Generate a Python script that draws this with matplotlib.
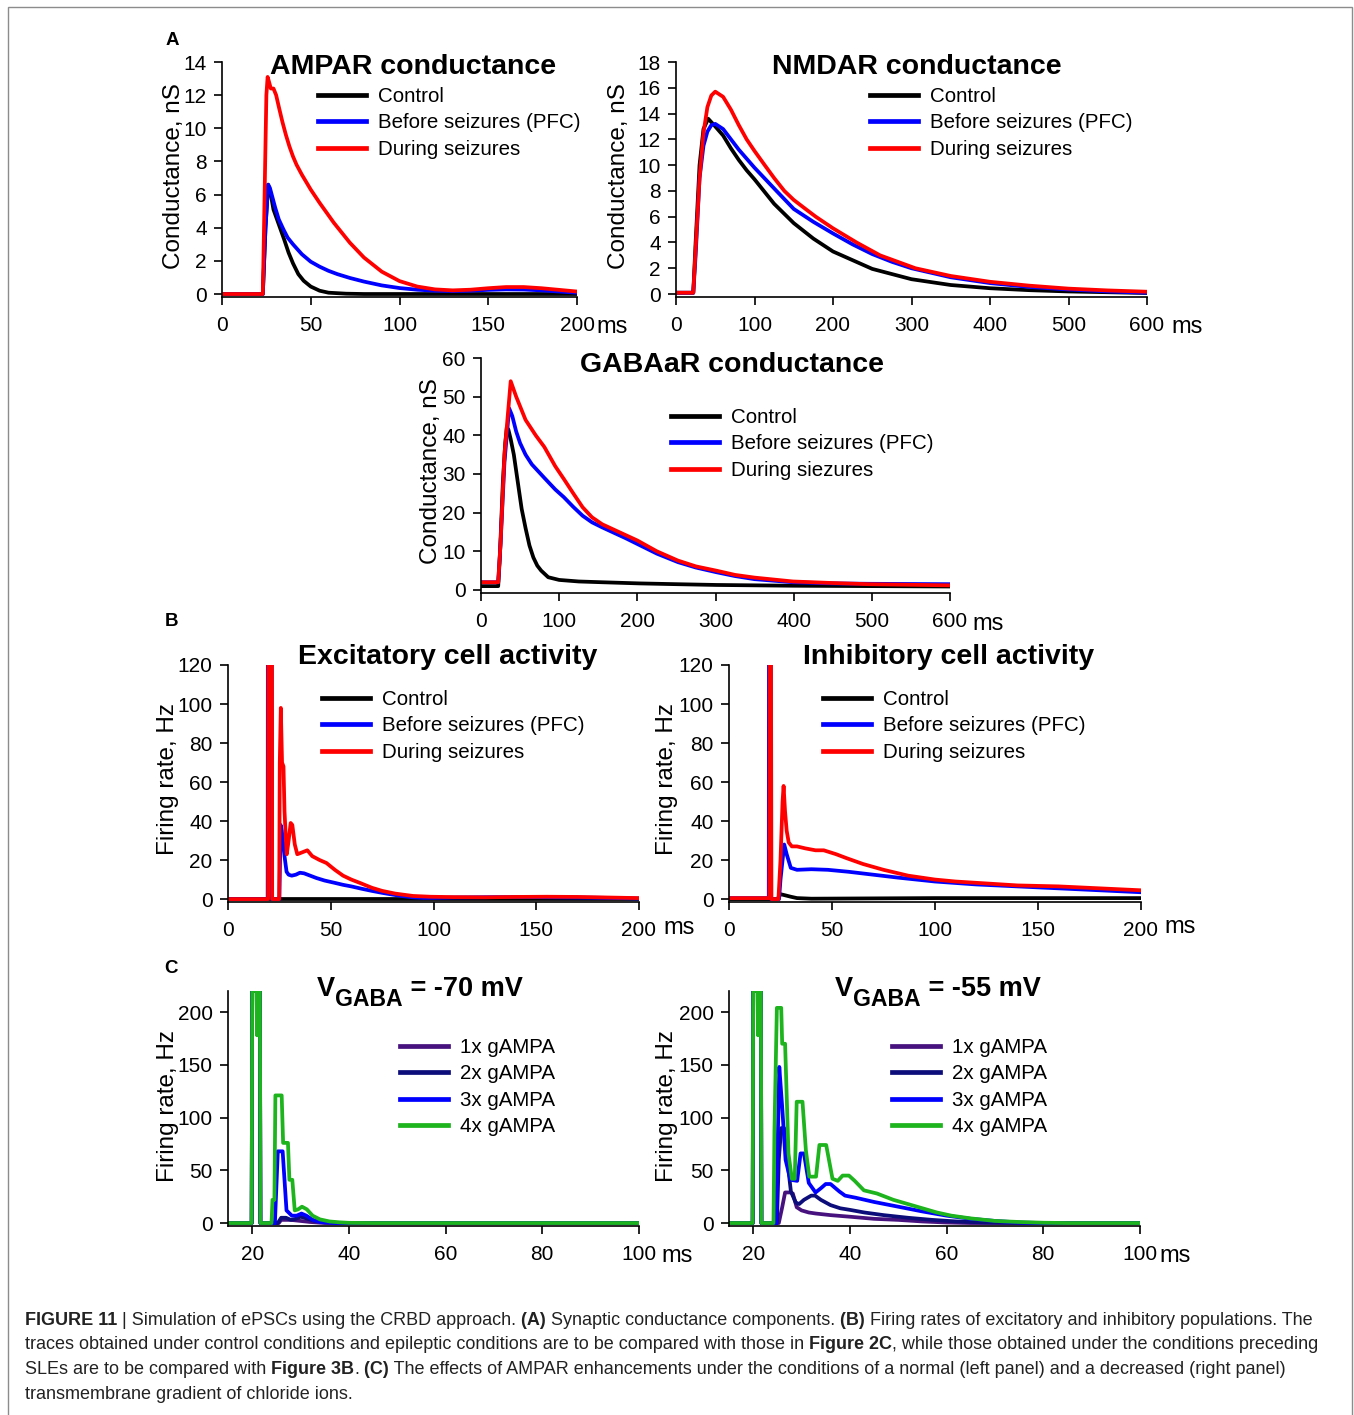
import matplotlib
matplotlib.use('Agg')
import matplotlib.pyplot as plt
from matplotlib.patches import Rectangle

plt.rcParams['font.family'] = ['Liberation Sans', 'DejaVu Sans']

W, H = 1354, 1415

# ---------------------------------------------------------------- data
labels_abc = ['Control', 'Before seizures (PFC)', 'During seizures']
labels_gaba = ['Control', 'Before seizures (PFC)', 'During siezures']
labels_c = ['1x gAMPA', '2x gAMPA', '3x gAMPA', '4x gAMPA']

# A: AMPAR conductance (nS)
ampar_ctrl_t = [0, 23, 24.5, 26, 27.5, 29, 31, 33, 35, 37.5, 40, 43, 46, 50, 55, 60, 70, 80, 200]
ampar_ctrl_v = [0, 0, 4.0, 6.6, 6.0, 5.1, 4.5, 3.9, 3.3, 2.5, 1.85, 1.2, 0.8, 0.45, 0.2, 0.08, 0.02, 0, 0]
ampar_pfc_t = [0, 23, 24.5, 26, 27, 28.5, 30, 32, 34.6, 37, 40, 45, 50, 55, 60, 65, 72, 80, 90, 100,
               110, 120, 130, 140, 150, 160, 170, 180, 190, 200]
ampar_pfc_v = [0, 0, 4.0, 6.6, 6.4, 5.8, 5.2, 4.5, 3.9, 3.4, 3.0, 2.4, 1.95, 1.65, 1.4, 1.2, 0.97, 0.75,
               0.52, 0.36, 0.26, 0.2, 0.18, 0.2, 0.25, 0.28, 0.27, 0.22, 0.15, 0.08]
ampar_sz_t = [0, 23, 24, 25, 25.7, 26.5, 27.5, 29, 30.5, 32, 34, 36, 38, 40, 42, 45, 50, 55, 63, 72,
              80, 90, 100, 110, 120, 130, 140, 150, 160, 170, 180, 190, 200]
ampar_sz_v = [0, 0, 6, 12, 13.1, 12.8, 12.4, 12.4, 12.0, 11.3, 10.4, 9.6, 8.9, 8.3, 7.8, 7.2, 6.3, 5.5,
              4.3, 3.1, 2.2, 1.35, 0.78, 0.45, 0.28, 0.22, 0.26, 0.35, 0.42, 0.42, 0.35, 0.25, 0.15]

# A: NMDAR conductance (nS)
nmdar_ctrl_t = [0, 22, 25, 30, 35, 41, 50, 60, 70, 80, 90, 100, 125, 150, 175, 200, 250, 300, 350, 400,
                450, 500, 600]
nmdar_ctrl_v = [0.1, 0.1, 4, 10, 12.8, 13.6, 13.0, 12.3, 11.3, 10.4, 9.6, 8.9, 7.0, 5.5, 4.3, 3.3, 1.95,
                1.15, 0.7, 0.45, 0.3, 0.2, 0.08]
nmdar_pfc_t = [0, 22, 25, 30, 35, 40, 45, 50, 60, 70, 80, 90, 100, 128, 150, 175, 200, 225, 250, 275,
               300, 350, 400, 450, 500, 550, 600]
nmdar_pfc_v = [0.1, 0.1, 3, 9, 11.5, 12.6, 13.1, 13.2, 12.8, 12.0, 11.2, 10.5, 9.8, 8.0, 6.6, 5.6, 4.7,
               3.85, 3.1, 2.5, 2.0, 1.3, 0.85, 0.55, 0.35, 0.2, 0.1]
nmdar_sz_t = [0, 22, 25, 30, 35, 40, 45, 50, 60, 70, 80, 90, 100, 113, 125, 138, 150, 165, 178, 200,
              230, 260, 305, 350, 400, 450, 500, 550, 600]
nmdar_sz_v = [0.1, 0.1, 3.5, 9, 12.5, 14.5, 15.4, 15.7, 15.3, 14.3, 13.1, 12.0, 11.1, 10.0, 9.0, 8.0,
              7.3, 6.6, 6.0, 5.1, 4.0, 3.0, 2.0, 1.4, 0.95, 0.65, 0.42, 0.28, 0.18]

# A: GABAaR conductance (nS)
gaba_ctrl_t = [0, 22, 24, 28, 31, 33, 35, 38, 42, 47, 52, 57, 62, 67, 72, 77, 86, 100, 125, 155, 203,
               250, 301, 399, 500, 600]
gaba_ctrl_v = [1, 1, 8, 28, 38, 42, 41.5, 39, 35, 28, 21, 16, 11.5, 8.4, 6.3, 5, 3.3, 2.6, 2.2, 2.0,
               1.7, 1.5, 1.3, 1.1, 1.0, 0.9]
gaba_pfc_t = [0, 22, 25, 30, 36, 40, 45, 50, 57, 65, 81, 95, 106, 118, 130, 142, 155, 170, 185, 200,
              225, 252, 275, 301, 325, 350, 399, 450, 496, 600]
gaba_pfc_v = [2, 2, 12, 33, 47, 45, 41, 38, 35, 32.5, 29, 26, 24, 21.5, 19.2, 17.5, 16.2, 14.8, 13.4,
              11.9, 9.4, 7.2, 5.8, 4.6, 3.6, 2.8, 2.0, 1.7, 1.6, 1.5]
gaba_sz_t = [0, 22, 25, 30, 38, 45, 57, 70, 81, 95, 106, 118, 130, 142, 155, 170, 185, 200, 225, 252,
             275, 301, 325, 350, 399, 450, 496, 600]
gaba_sz_v = [2, 2, 12, 35, 54, 50, 44, 40, 37, 32, 28.7, 25, 21.4, 18.8, 17, 15.6, 14.2, 12.8, 10, 7.6,
             6.1, 5.0, 3.9, 3.2, 2.2, 1.8, 1.5, 1.2]

# B: excitatory firing rate (Hz)
exc_ctrl_t = [0, 200]
exc_ctrl_v = [0, 0]
exc_pfc_t = [0, 19.3, 19.4, 21.3, 21.4, 25.0, 25.6, 26.2, 27.5, 28.5, 29.5, 31, 33, 35, 37, 40, 43, 47,
             52, 56, 60, 65, 70, 75, 80, 85, 90, 95, 100, 110, 130, 150, 170, 185, 200]
exc_pfc_v = [0, 0, 120, 120, 0, 0, 38, 35, 22, 14, 12.5, 12, 12.5, 13.5, 13.2, 12, 10.8, 9.5, 8.3, 7.3,
             6.5, 5.3, 4.2, 3.2, 2.3, 1.5, 0.9, 0.6, 0.6, 0.8, 1.0, 1.0, 0.8, 0.6, 0.3]
exc_sz_t = [0, 19.5, 19.6, 21.4, 21.5, 24.9, 25.2, 25.7, 26.3, 27.0, 27.5, 28.2, 28.6, 29.5, 30.5, 31.3,
            32.5, 33.7, 35, 38.6, 41, 44.6, 47.9, 52, 56, 60, 64.4, 70, 75, 81.4, 90, 98.5, 110, 125, 140,
            155, 170, 185, 200]
exc_sz_v = [0, 0, 120, 120, 0, 0, 70, 98, 70, 68, 45, 30, 23, 30, 39, 38, 28, 23, 23.5, 25, 22, 20,
            18.5, 15, 12, 10, 8.2, 5.8, 4.2, 2.8, 1.6, 1.2, 1.0, 0.9, 1.1, 1.2, 1.1, 0.8, 0.5]

# B: inhibitory firing rate (Hz)
inh_ctrl_t = [0, 23.5, 25, 27, 30, 33, 40, 60, 100, 150, 200]
inh_ctrl_v = [0, 0, 2.5, 2.0, 1.2, 0.5, 0.2, 0.3, 0.5, 0.5, 0.5]
inh_pfc_t = [0, 19.3, 19.4, 20.3, 20.4, 24.3, 25, 26.8, 28, 30, 33, 40, 48, 58, 70, 82, 100, 120, 140,
             160, 180, 200]
inh_pfc_v = [0.5, 0.5, 120, 120, 0, 0, 10, 28, 23, 16, 15, 15.3, 15, 14, 12.5, 11, 9, 7.5, 6.5, 5.5,
             4.5, 3.5]
inh_sz_t = [0, 19.6, 19.8, 20.4, 20.6, 24.0, 25.0, 26.0, 26.5, 27.2, 28, 29, 30.5, 33, 37, 42, 46, 52,
            57, 65, 75, 87, 100, 110, 125, 140, 160, 180, 200]
inh_sz_v = [0.5, 0.5, 120, 120, 0, 0, 20, 50, 58, 45, 35, 29, 27, 27, 26, 25, 25, 23, 21, 18, 15, 12,
            10, 9, 8, 7, 6.5, 5.5, 4.5]

# C: V_GABA = -70 mV, firing rate (Hz)
cl_1x_t = [15, 19.9, 20.0, 21.6, 21.7, 25.5, 26, 28, 30, 32, 35, 100]
cl_1x_v = [0, 0, 220, 220, 0, 0, 3, 3, 2, 1, 0, 0]
cl_2x_t = [15, 19.9, 20.0, 21.6, 21.7, 25.3, 26, 27, 28, 29, 30, 31.5, 33, 35, 38, 100]
cl_2x_v = [0, 0, 220, 220, 0, 0, 5, 5, 3, 4, 6, 4, 2, 1, 0, 0]
cl_3x_t = [15, 19.9, 20.0, 21.6, 21.7, 24.7, 25.3, 26.3, 27.1, 28.2, 29.2, 30.2, 31.2, 32.5, 34, 37, 100]
cl_3x_v = [0, 0, 220, 220, 0, 0, 68, 68, 12, 7, 7, 9, 7, 3, 1, 0, 0]
cl_4x_t = [15, 19.9, 20.0, 20.9, 21.0, 21.1, 21.6, 21.7, 24.0, 24.2, 24.6, 24.8, 26.1, 26.4, 27.4, 27.7,
           28.3, 28.8, 29.5, 30.3, 31.3, 32.5, 34, 36, 38, 40, 45, 100]
cl_4x_v = [0, 0, 220, 220, 178, 220, 220, 0, 0, 22, 22, 121, 121, 76, 76, 41, 41, 12, 13, 15.5, 13, 7,
           3.5, 1.5, 0.7, 0.2, 0, 0]

# C: V_GABA = -55 mV, firing rate (Hz)
cr_1x_t = [15, 19.9, 20.0, 21.6, 21.7, 25.3, 26.0, 26.6, 27.7, 28.2, 29.0, 30.0, 31.5, 33, 36, 40, 45,
           50, 55, 60, 65, 100]
cr_1x_v = [0, 0, 220, 220, 0, 0, 15, 29, 29, 28, 15, 12, 10, 9, 7.5, 6, 4, 3, 1.5, 0.5, 0, 0]
cr_2x_t = [15, 19.9, 20.0, 21.6, 21.7, 24.9, 25.3, 25.8, 26.4, 26.8, 27.8, 28.8, 29.5, 30.5, 32, 32.8,
           34, 36, 38, 40, 43, 47, 52, 57, 62, 68, 75, 100]
cr_2x_v = [0, 0, 220, 220, 0, 0, 60, 90, 90, 70, 30, 19.5, 18, 22, 26, 26, 22, 17, 14, 12.5, 10, 7.5,
           5, 3, 1.5, 0.5, 0, 0]
cr_3x_t = [15, 19.9, 20.0, 21.6, 21.7, 24.8, 25.0, 25.4, 26.0, 26.7, 27.7, 29.1, 29.8, 30.5, 31.5,
           32.9, 34, 35, 36, 37.8, 39, 41.2, 45, 50, 55, 60, 65, 70, 75, 80, 100]
cr_3x_v = [0, 0, 220, 220, 0, 0, 60, 148, 110, 60, 41, 40, 66, 66, 38, 29, 33, 37, 37, 30, 26, 24, 20,
           15.5, 11, 7, 4, 2, 0.5, 0, 0]
cr_4x_t = [15, 19.9, 20.0, 20.9, 21.0, 21.1, 21.6, 21.7, 24.2, 24.4, 24.9, 25.8, 26.0, 26.6, 27.3,
           28.0, 28.6, 29.0, 30.2, 30.9, 31.6, 33.0, 33.7, 35.1, 36.4, 37.5, 38.5, 39.8, 41.0, 42.9,
           45.6, 49, 52, 55, 58, 61, 65, 70, 75, 80, 85, 100]
cr_4x_v = [0, 0, 220, 220, 178, 220, 220, 0, 0, 88, 204, 204, 170, 170, 66, 42, 42, 115, 115, 69, 44,
           44, 74, 74, 42, 40, 45, 45, 40, 31, 28, 22, 18, 14, 10, 7, 4.4, 2, 1, 0.3, 0, 0]

# ticks
ticks_200 = [0, 50, 100, 150, 200]
ticks_600 = [0, 100, 200, 300, 400, 500, 600]
ticks_c = [20, 40, 60, 80, 100]

# ---------------------------------------------------------------- styling
col3 = ['#000000', '#0000ff', '#ff0000']
col4 = ['#48127e', '#0c0c7a', '#0000ff', '#1db41d']
LW = 2.7

fig = plt.figure(figsize=(W / 100, H / 100), dpi=100)
fig.patch.set_facecolor('white')


def px_axes(l, r, t, b):
    return fig.add_axes([l / W, 1 - b / H, (r - l) / W, (b - t) / H])


def panel(box, xlim, ylim, xticks, yticks, ylabel, ylab_xy, ms_xy, series, colors, labels,
          title, title_xy, leg_xy):
    l, r, t, b = box
    ax = px_axes(l, r, t, b)
    for (tt, vv), c in zip(series, colors):
        ax.plot(tt, vv, color=c, lw=LW, solid_joinstyle='round', clip_on=True)
    ax.set_xlim(*xlim)
    ax.set_ylim(*ylim)
    ax.set_xticks(xticks)
    ax.set_yticks(yticks)
    for s in ['top', 'right']:
        ax.spines[s].set_visible(False)
    for s in ['left', 'bottom']:
        ax.spines[s].set_linewidth(1.2)
    ax.tick_params(direction='out', length=6, width=1.2, labelsize=15, pad=5)
    ax.tick_params(axis='x', pad=8)
    ax.set_ylabel(ylabel, fontsize=17.5, va='center')
    ax.yaxis.set_label_coords((ylab_xy[0] - l) / (r - l), (b - ylab_xy[1]) / (b - t))
    ax.set_xlabel('ms', fontsize=17, va='center')
    ax.xaxis.set_label_coords((ms_xy[0] - l) / (r - l), (b - ms_xy[1]) / (b - t))
    if title is not None:
        fig.text(title_xy[0] / W, 1 - title_xy[1] / H, title, ha='center', va='baseline',
                 fontsize=20.5, fontweight='bold')
    leg = ax.legend(labels, loc='upper left', bbox_to_anchor=(leg_xy[0] / W, 1 - leg_xy[1] / H),
                    bbox_transform=fig.transFigure, frameon=False, fontsize=14.8,
                    handlelength=2.33, handletextpad=0.58, labelspacing=0.36, borderpad=0,
                    borderaxespad=0)
    for h in leg.get_lines():
        h.set_linewidth(3.4)
    return ax


# Panel A
panel((222, 577, 62, 297), (0, 200), (-0.18, 14), ticks_200, list(range(0, 15, 2)),
      'Conductance, nS', (174, 176), (612, 327),
      [(ampar_ctrl_t, ampar_ctrl_v), (ampar_pfc_t, ampar_pfc_v), (ampar_sz_t, ampar_sz_v)],
      col3, labels_abc, 'AMPAR conductance', (413, 74), (318, 87))
panel((676, 1147, 62, 297), (0, 600), (-0.23, 18), ticks_600, list(range(0, 19, 2)),
      'Conductance, nS', (619, 176), (1187, 327),
      [(nmdar_ctrl_t, nmdar_ctrl_v), (nmdar_pfc_t, nmdar_pfc_v), (nmdar_sz_t, nmdar_sz_v)],
      col3, labels_abc, 'NMDAR conductance', (917, 74), (870, 87))
panel((481, 950, 358, 593), (0, 600), (-0.78, 60), ticks_600, list(range(0, 61, 10)),
      'Conductance, nS', (431, 471), (988, 624),
      [(gaba_ctrl_t, gaba_ctrl_v), (gaba_pfc_t, gaba_pfc_v), (gaba_sz_t, gaba_sz_v)],
      col3, labels_gaba, 'GABAaR conductance', (732, 372), (671, 408))

# Panel B
panel((228, 639, 665, 902), (0, 200), (-1.5, 120), ticks_200, list(range(0, 121, 20)),
      'Firing rate, Hz', (168, 779), (679, 928),
      [(exc_ctrl_t, exc_ctrl_v), (exc_pfc_t, exc_pfc_v), (exc_sz_t, exc_sz_v)],
      col3, labels_abc, 'Excitatory cell activity', (448, 664), (322, 690))
panel((729, 1141, 665, 902), (0, 200), (-1.5, 120), ticks_200, list(range(0, 121, 20)),
      'Firing rate, Hz', (667, 779), (1180, 927),
      [(inh_ctrl_t, inh_ctrl_v), (inh_pfc_t, inh_pfc_v), (inh_sz_t, inh_sz_v)],
      col3, labels_abc, 'Inhibitory cell activity', (949, 664), (823, 690))

# Panel C
panel((228, 639, 991, 1226), (15, 100), (-2.8, 220), ticks_c, [0, 50, 100, 150, 200],
      'Firing rate, Hz', (168, 1106), (677, 1256),
      [(cl_1x_t, cl_1x_v), (cl_2x_t, cl_2x_v), (cl_3x_t, cl_3x_v), (cl_4x_t, cl_4x_v)],
      col4, labels_c, None, None, (400, 1038))
panel((729, 1140, 991, 1226), (15, 100), (-2.8, 220), ticks_c, [0, 50, 100, 150, 200],
      'Firing rate, Hz', (667, 1106), (1175, 1256),
      [(cr_1x_t, cr_1x_v), (cr_2x_t, cr_2x_v), (cr_3x_t, cr_3x_v), (cr_4x_t, cr_4x_v)],
      col4, labels_c, None, None, (892, 1038))

# overlay axes for free text (titles with subscripts, caption)
tax = fig.add_axes([0, 0, 1, 1], zorder=10)
tax.set_xlim(0, W)
tax.set_ylim(H, 0)
tax.axis('off')


def run(x, y_bottom, segs, size, color='black'):
    """segs: list of (text, bold, dy_px, size_factor); chained left to right."""
    arts = []
    prev = None
    for s, bold, dy, sf in segs:
        kw = dict(fontsize=size * sf, fontweight='bold' if bold else 'normal', color=color,
                  va='bottom', ha='left')
        if prev is None:
            a = tax.text(x, y_bottom, s, **kw)
        else:
            a = tax.annotate(s, xy=(1, 0), xycoords=prev, xytext=(0, dy),
                             textcoords='offset pixels', **kw)
        arts.append(a)
        prev = a
    return arts


# C titles
run(317, 1002, [('V', True, 0, 1.0), ('GABA', True, -9, 0.85), (' = -70 mV', True, 9, 1.0)], 19.5)
run(835, 1002, [('V', True, 0, 1.0), ('GABA', True, -9, 0.85), (' = -55 mV', True, 9, 1.0)], 19.5)

# panel letters
for letter, (lx, ly) in zip(['A', 'B', 'C'], [(172, 45), (172, 626), (171, 973)]):
    tax.text(lx, ly, letter, fontsize=13.5, fontweight='bold', ha='center', va='baseline')

# caption
cap_lines = [
    [('FIGURE 11', True), (' | Simulation of ePSCs using the CRBD approach.', False), (' (A)', True),
     (' Synaptic conductance components.', False), (' (B)', True),
     (' Firing rates of excitatory and inhibitory populations. The', False)],
    [('traces obtained under control conditions and epileptic conditions are to be compared with those in',
      False), (' Figure 2C', True), (', while those obtained under the conditions preceding', False)],
    [('SLEs are to be compared with', False), (' Figure 3B', True), ('.', False), (' (C)', True),
     (' The effects of AMPAR enhancements under the conditions of a normal (left panel) and a decreased (right panel)',
      False)],
    [('transmembrane gradient of chloride ions.', False)],
]
cap_bottoms = [1329, 1353, 1378, 1403]


def draw_caption(size):
    out = []
    for segs, yb in zip(cap_lines, cap_bottoms):
        out.append(run(25, yb, [(s, b, 0, 1.0) for s, b in segs], size, color='#222222'))
    return out


size0 = 12.0
arts = draw_caption(size0)
fig.canvas.draw()
rend = fig.canvas.get_renderer()
x1 = arts[0][-1].get_window_extent(rend).x1
scale = (1318 - 25) / (x1 - 25)
for line in arts:
    for a in line:
        a.remove()
draw_caption(size0 * scale)

# outer frame
fig.add_artist(Rectangle((8 / W, -0.02), (1352 - 8) / W, 1 - 7 / H + 0.02,
                         transform=fig.transFigure, fill=False, ec='#8c8c8c', lw=1.0))

fig.savefig('out.png', dpi=100, facecolor='white')
